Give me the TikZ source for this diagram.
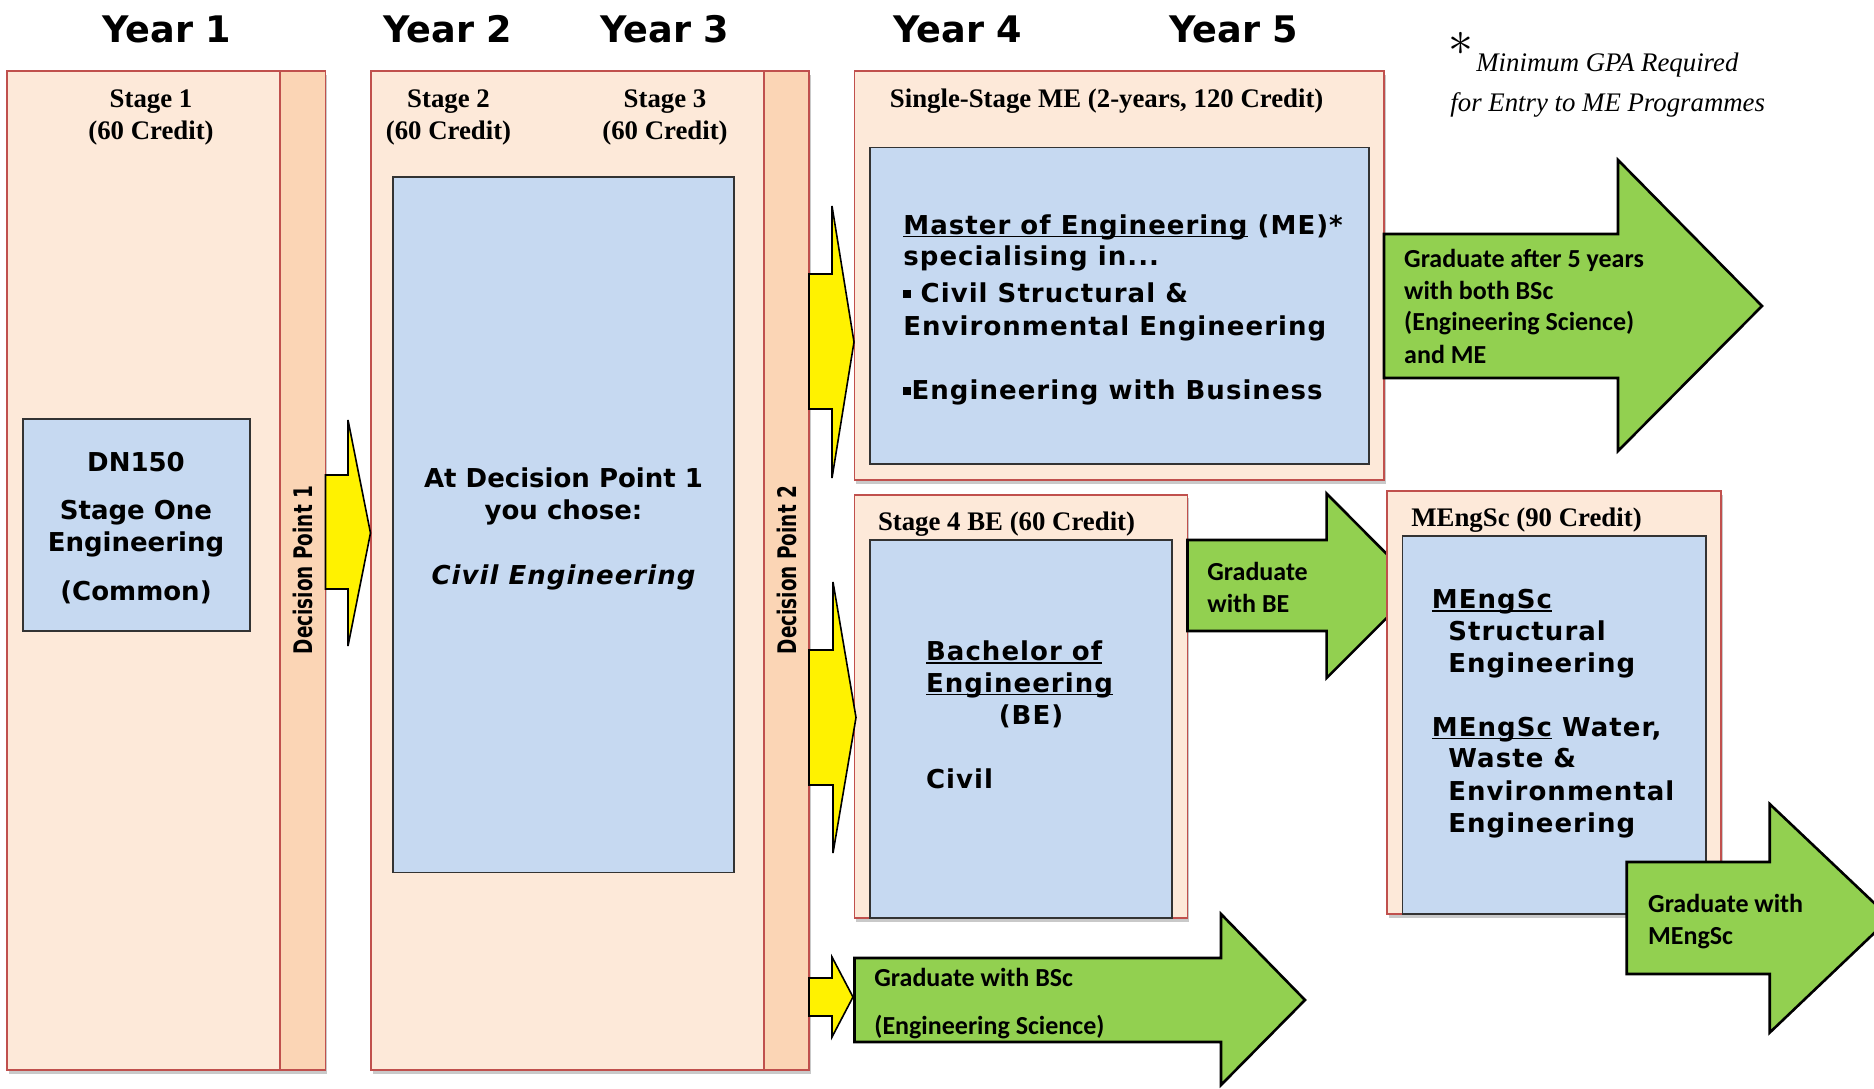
\documentclass[tikz,border=0pt]{standalone}
\usepackage{fontspec}
\usepackage{graphicx}
\usetikzlibrary{shadows}
\newfontfamily\myvf{DejaVu Sans}
\newfontfamily\myvfs[LetterSpace=4]{DejaVu Sans}
\newfontfamily\mytf{Liberation Serif}
\newfontfamily\mycf{Carlito}
\definecolor{peach}{HTML}{FDE9D9}
\definecolor{stripc}{HTML}{FBD5B5}
\definecolor{blueb}{HTML}{C6D9F1}
\definecolor{redb}{HTML}{C0504D}
\definecolor{greenc}{HTML}{92D050}
\newcommand\myyear{\myvf\bfseries\fontsize{18.3}{22}\selectfont}
\newcommand\mystage{\mytf\bfseries\fontsize{13.4}{16}\selectfont}
\newcommand\mybox{\myvf\bfseries\fontsize{13}{16}\selectfont}
\newcommand\myboxs{\myvfs\bfseries\fontsize{13}{16}\selectfont}
\newcommand\mygrad{\mycf\bfseries\fontsize{13}{16}\selectfont}
\newcommand\mynote{\mytf\itshape\fontsize{13.4}{16}\selectfont}
\newcommand\myul[1]{\setbox0\hbox{#1}\rlap{\rule[-1.6pt]{\wd0}{0.8pt}}\box0\relax}
\newcommand\mybul{\raisebox{2.2pt}{\rule{3.6pt}{3.8pt}}}
\begin{document}
\begin{tikzpicture}[x=0.5pt,y=-0.5pt,
  panel/.style={fill=peach,draw=redb,line width=0.8pt},
  shad/.style={drop shadow={shadow xshift=0.8pt,shadow yshift=-1.8pt,opacity=.35,fill=black!60}},
  stripbox/.style={fill=stripc,draw=redb,line width=0.8pt},
  bluebox/.style={fill=blueb,draw=black!80,line width=0.8pt},
  yarrow/.style={fill=yellow,draw=black,line width=0.8pt,line join=miter},
  garrow/.style={fill=greenc,draw=black,line width=1.3pt,line join=miter},
  txt/.style={inner sep=0pt,anchor=base west},
  ctxt/.style={inner sep=0pt,anchor=base}]
\clip (0,0) rectangle (1874,1088);
\fill[white] (0,0) rectangle (1874,1088);
% panels
\path[panel,shad] (7,71) rectangle (325.5,1070);
\path[stripbox] (280,71) rectangle (325.5,1070);
\path[panel,shad] (371,71) rectangle (809,1070);
\path[stripbox] (764,71) rectangle (809,1070);
\path[panel,shad] (854.5,71) rectangle (1384,480);
\path[panel,shad] (854.5,494.7) rectangle (1187.5,918);
% blue boxes
\path[bluebox] (22.7,419) rectangle (250,630.7);
\path[bluebox] (393,177) rectangle (734,872.6);
\path[bluebox] (869.7,147.5) rectangle (1368.8,464);
\path[bluebox] (869.7,540) rectangle (1171.7,918);
% green arrow to MEngSc (under panel)
\path[garrow] (1187.5,540) -- (1326.6,540) -- (1326.6,493.6) -- (1418.6,586) -- (1326.6,678) -- (1326.6,631) -- (1187.5,631) -- cycle;
% MEngSc panel
\path[panel,shad] (1387,491) rectangle (1721,914);
\path[bluebox] (1402.5,536) rectangle (1705.8,914);
% yellow arrows
\path[yarrow] (325.5,475) -- (348,475) -- (348,420) -- (370.5,533) -- (348,646) -- (348,589) -- (325.5,589) -- cycle;
\path[yarrow] (809,274) -- (832,274) -- (832,206) -- (854,342) -- (832,478) -- (832,409) -- (809,409) -- cycle;
\path[yarrow] (809,650) -- (833,650) -- (833,582) -- (856,717.5) -- (833,853) -- (833,785) -- (809,785) -- cycle;
\path[yarrow] (809,978) -- (832,978) -- (832,957) -- (853,997) -- (832,1037) -- (832,1016) -- (809,1016) -- cycle;
% green arrows
\path[garrow] (1384,234) -- (1618,234) -- (1618,160) -- (1762,306) -- (1618,451) -- (1618,378) -- (1384,378) -- cycle;
\path[garrow] (1626.7,862) -- (1769.7,862) -- (1769.7,804) -- (1890,918) -- (1769.7,1032.6) -- (1769.7,974) -- (1626.7,974) -- cycle;
\path[garrow] (854.5,958) -- (1221,958) -- (1221,914) -- (1305,1000) -- (1221,1085) -- (1221,1042) -- (854.5,1042) -- cycle;
% year labels
\node[ctxt,font=\myyear] (y1) at (167,42) {Year 1};
\node[ctxt,font=\myyear] (y2) at (448,42) {Year 2};
\node[ctxt,font=\myyear] (y3) at (665,42) {Year 3};
\node[ctxt,font=\myyear] (y4) at (958,42) {Year 4};
\node[ctxt,font=\myyear] (y5) at (1234,42) {Year 5};
% stage headers
\node[ctxt,font=\mystage] (s1a) at (151,107) {Stage 1};
\node[ctxt,font=\mystage] (s1b) at (151,139) {(60 Credit)};
\node[ctxt,font=\mystage] (s2a) at (448.5,107) {Stage 2};
\node[ctxt,font=\mystage] (s2b) at (448.5,139) {(60 Credit)};
\node[ctxt,font=\mystage] (s3a) at (665,107) {Stage 3};
\node[ctxt,font=\mystage] (s3b) at (665,139) {(60 Credit)};
\node[txt,font=\mystage] (meh) at (889.5,107.6) {Single-Stage ME (2-years, 120 Credit)};
\node[txt,font=\mystage] (beh) at (877.6,530) {Stage 4 BE (60 Credit)};
\node[txt,font=\mystage] (msh) at (1411,526) {MEngSc (90 Credit)};
% note
\node[inner sep=0pt] (ast) at (1461,44) {\fontsize{52}{52}\selectfont$\ast$};
\node[txt,font=\mynote] (n1) at (1476,71) {Minimum GPA Required};
\node[txt,font=\mynote] (n2) at (1450,111.7) {for Entry to ME Programmes};
% decision points
\node[rotate=90,inner sep=0pt,font=\mybox\fontsize{12.8}{15}\selectfont] (dp1) at (302.7,570) {\scalebox{0.72}[1]{Decision Point 1}};
\node[rotate=90,inner sep=0pt,font=\mybox\fontsize{12.8}{15}\selectfont] (dp2) at (786.5,570) {\scalebox{0.72}[1]{Decision Point 2}};
% DN150
\node[ctxt,font=\mybox] (d1) at (136,471.7) {DN150};
\node[ctxt,font=\mybox] (d2) at (136,519.3) {Stage One};
\node[ctxt,font=\mybox] (d3) at (136,551.7) {Engineering};
\node[ctxt,font=\mybox] (d4) at (136,600) {(Common)};
% stage 2 box
\node[ctxt,font=\mybox] (c1) at (563.5,487.5) {At Decision Point 1};
\node[ctxt,font=\mybox] (c2) at (563.5,519.5) {you chose:};
\node[ctxt,font=\myboxs\itshape] (c3) at (563.5,584) {Civil Engineering};
% ME box
\node[txt,font=\myboxs] (m1) at (903,234.2) {\myul{Master of Engineering} (ME)*};
\node[txt,font=\myboxs] (m2) at (903,265.6) {specialising in...};
\node[txt,font=\myboxs] (m3) at (903,302) {\mybul{} Civil Structural \&};
\node[txt,font=\myboxs] (m4) at (903,335) {Environmental Engineering};
\node[txt,font=\myboxs] (m5) at (903,399) {\mybul\hspace{0.5pt}Engineering with Business};
% BE box
\node[txt,font=\myboxs] (b1) at (925.7,660.3) {\myul{Bachelor of}};
\node[txt,font=\myboxs] (b2) at (925.7,692) {\myul{Engineering}};
\node[ctxt,font=\myboxs] (b3) at (1031,724) {(BE)};
\node[txt,font=\myboxs] (b4) at (925.7,788.3) {Civil};
% MEngSc box
\node[txt,font=\myboxs] (e1) at (1431.5,608.7) {\myul{MEngSc}};
\node[txt,font=\myboxs] (e2) at (1448,640) {Structural};
\node[txt,font=\myboxs] (e3) at (1448,672) {Engineering};
\node[txt,font=\myboxs] (e4) at (1431.5,736) {\myul{MEngSc} Water,};
\node[txt,font=\myboxs] (e5) at (1448,767.7) {Waste \&};
\node[txt,font=\myboxs] (e6) at (1448,800) {Environmental};
\node[txt,font=\myboxs] (e7) at (1448,832) {Engineering};
% graduate texts
\node[txt,font=\mygrad] (g1) at (1403.8,267.9) {Graduate after 5 years};
\node[txt,font=\mygrad] (g2) at (1403.8,299.5) {with both BSc};
\node[txt,font=\mygrad] (g3) at (1403.8,330.7) {(Engineering Science)};
\node[txt,font=\mygrad] (g4) at (1403.8,363.7) {and ME};
\node[txt,font=\mygrad] (h1) at (1207,580) {Graduate};
\node[txt,font=\mygrad] (h2) at (1207,612) {with BE};
\node[txt,font=\mygrad] (k1) at (1647.8,912.4) {Graduate with};
\node[txt,font=\mygrad] (k2) at (1647.8,944) {MEngSc};
\node[txt,font=\mygrad] (j1) at (874,986.8) {Graduate with BSc};
\node[txt,font=\mygrad] (j2) at (874,1034.6) {(Engineering Science)};
\end{tikzpicture}
\end{document}
